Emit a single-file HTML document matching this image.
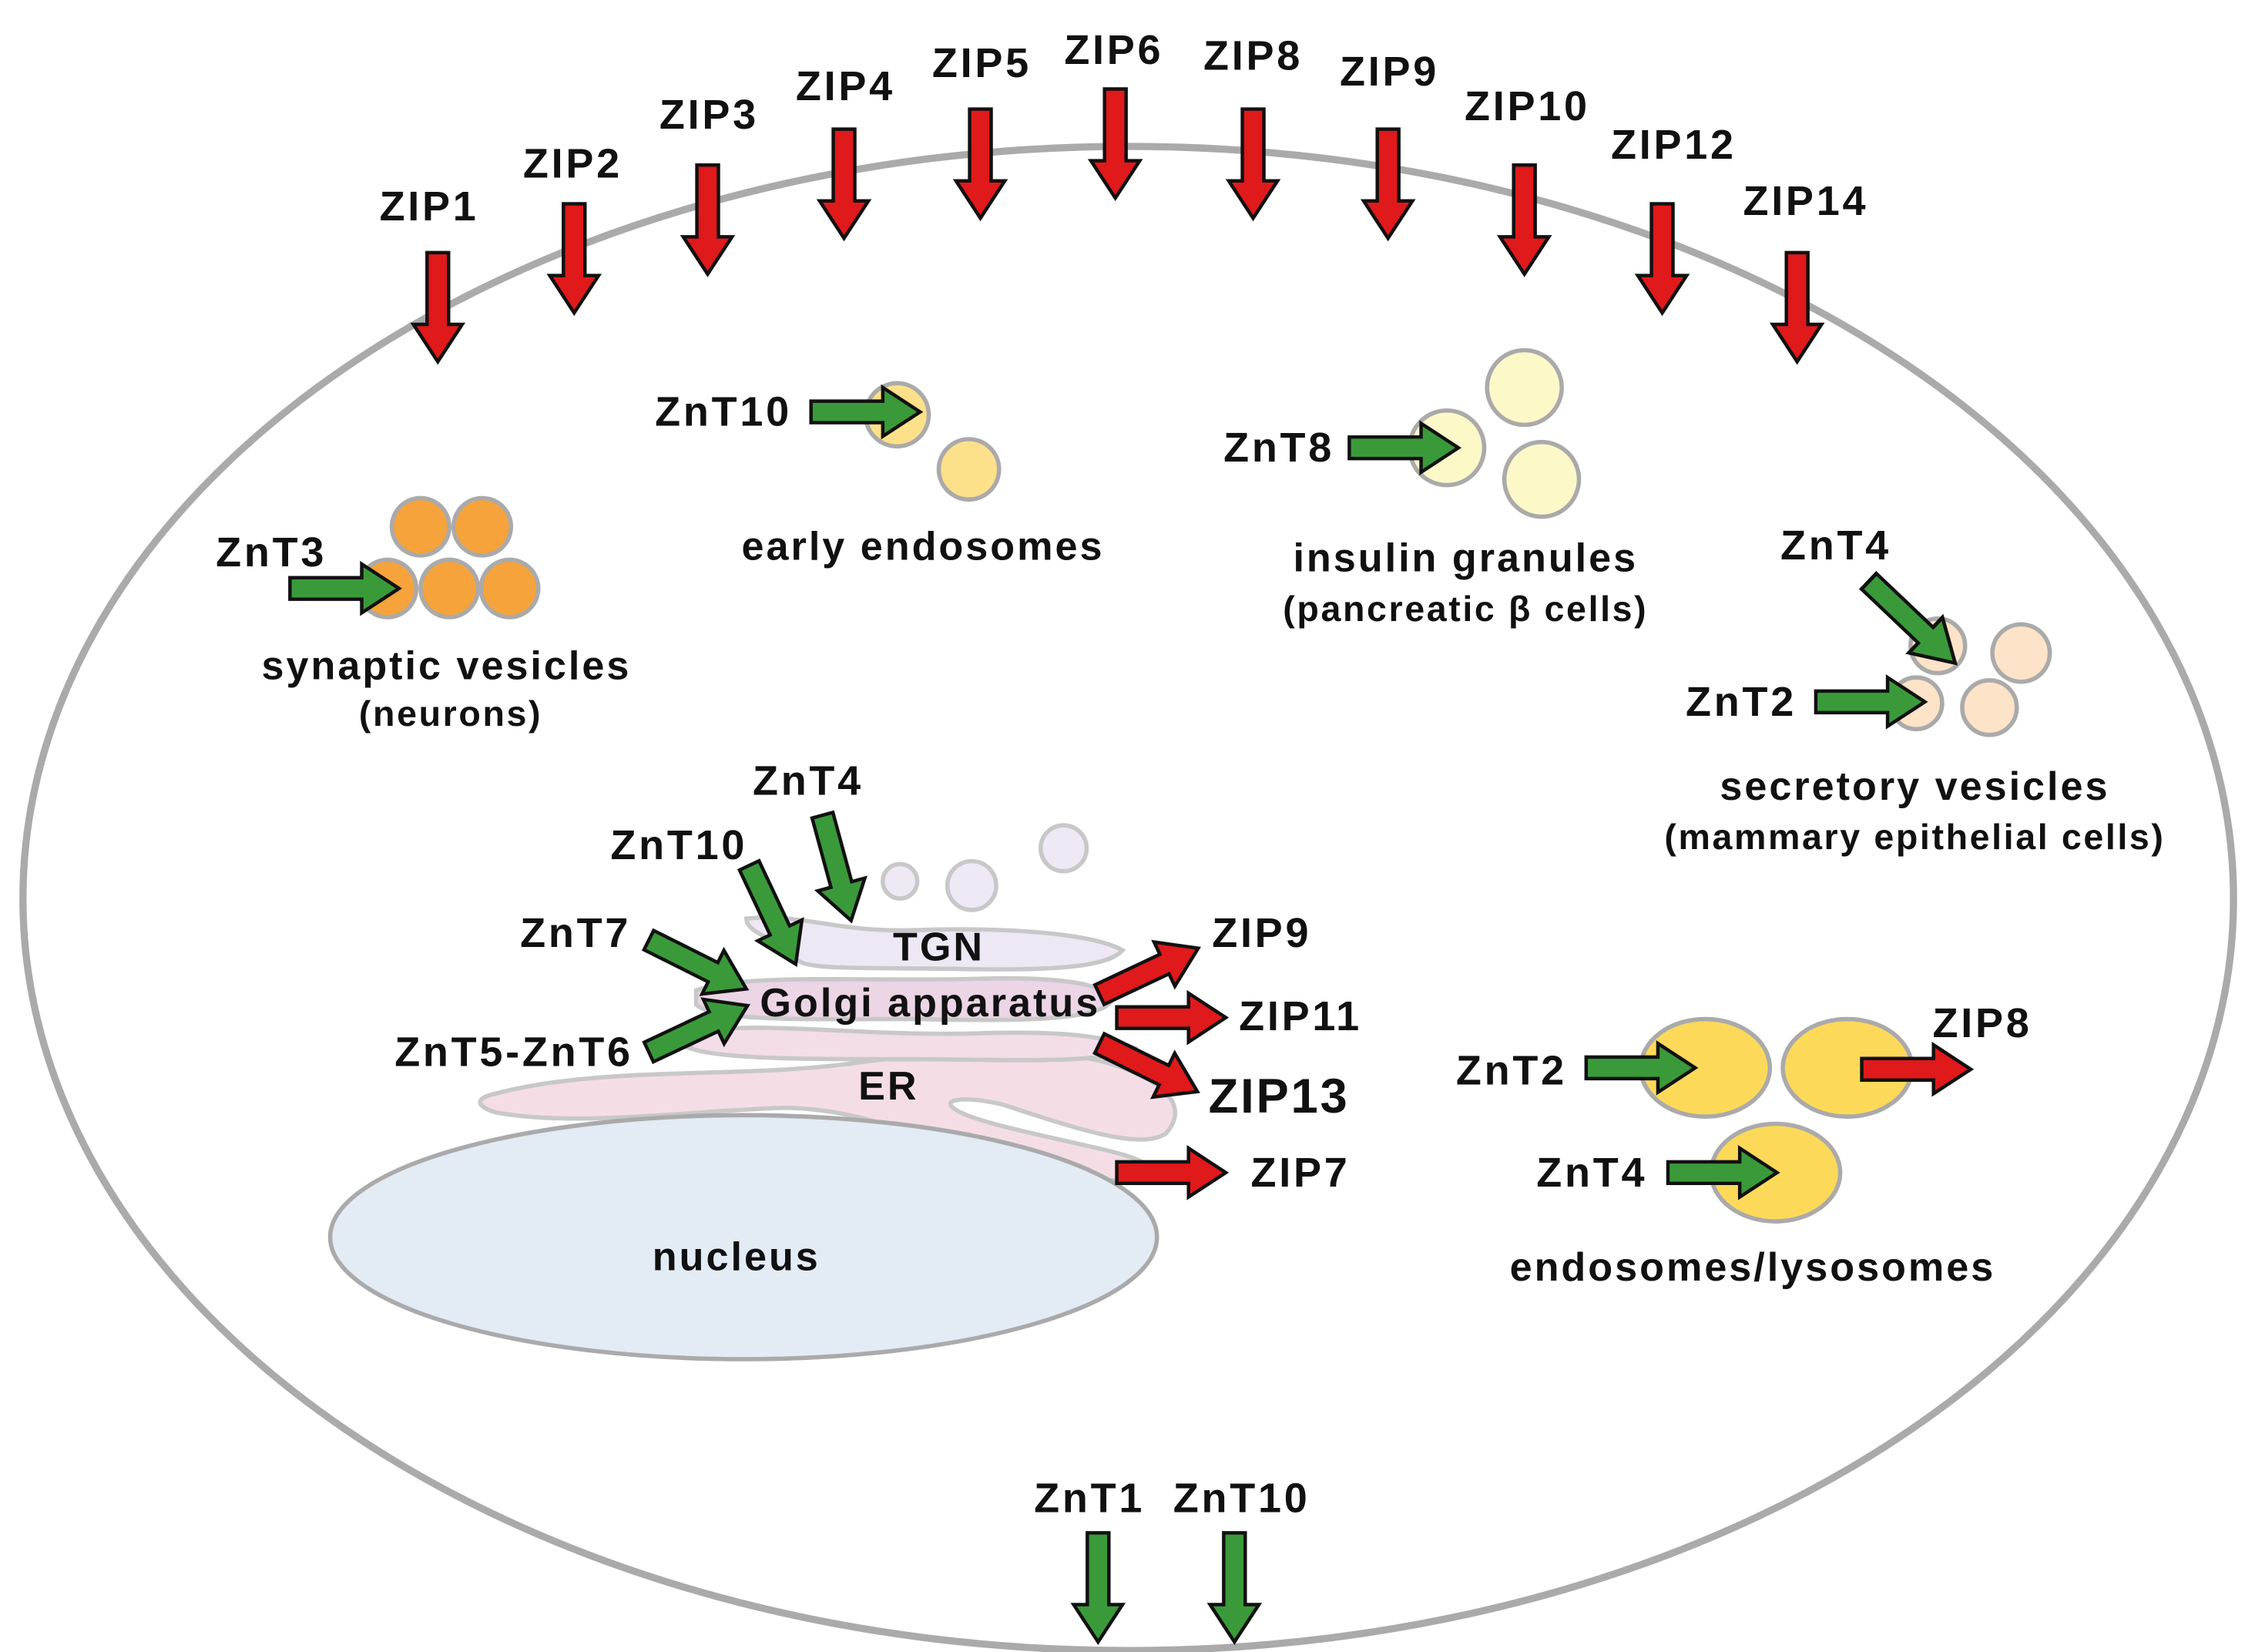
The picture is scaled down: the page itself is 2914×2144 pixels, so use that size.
<!DOCTYPE html>
<html><head><meta charset="utf-8"><style>html,body{margin:0;padding:0;background:#fff}svg{display:block}</style></head>
<body>
<svg xmlns="http://www.w3.org/2000/svg" width="2914" height="2144" viewBox="0 0 1564 1151" preserveAspectRatio="none">
<defs>
<polygon id="ar" points="-7.5,0 7.5,0 7.5,50 17,50 0,76 -17,50 -7.5,50" stroke="#111" stroke-width="2.4" stroke-linejoin="miter"/>
</defs>
<rect width="1564" height="1151" fill="#fff"/>
<ellipse cx="786" cy="626" rx="770" ry="524" fill="none" stroke="#aaa" stroke-width="5"/>

<!-- nucleus, ER, Golgi -->
<path d="M345,762 C420,742 520,752 600,740 C680,730 720,728 770,740 C810,752 830,770 812,790 C795,800 760,790 700,770 C660,760 640,770 700,785 C760,800 800,805 800,815 C790,828 760,822 720,812 C650,798 600,770 540,772 C470,775 400,785 345,775 C330,770 332,765 345,762 Z" fill="#f5dde6" stroke="#c8c8c8" stroke-width="3"/>
<ellipse cx="518" cy="862" rx="288" ry="85" fill="#e3ebf5" stroke="#aaa" stroke-width="3"/>
<path d="M490,718 C540,712 600,722 680,720 C740,718 770,722 790,730 C770,742 700,738 640,738 C560,738 500,738 480,730 Z" fill="#f3dde8" stroke="#c8c8c8" stroke-width="3"/>
<path d="M485,690 C520,678 600,684 680,682 C740,680 770,686 775,696 C770,710 720,712 640,710 C560,710 500,712 485,700 Z" fill="#ecd5e5" stroke="#c8c8c8" stroke-width="3"/>
<path d="M520,640 C560,636 580,650 640,648 C700,646 760,650 782,662 C770,676 720,676 660,675 C600,674 560,676 555,668 C550,656 520,652 520,640 Z" fill="#eee8f5" stroke="#c8c8c8" stroke-width="3"/>
<circle cx="627" cy="614" r="12" fill="#efe8f5" stroke="#c8c8c8" stroke-width="3"/>
<circle cx="677" cy="617" r="17" fill="#efe8f5" stroke="#c8c8c8" stroke-width="3"/>
<circle cx="741" cy="591" r="16" fill="#efe8f5" stroke="#c8c8c8" stroke-width="3"/>

<!-- vesicles -->
<g stroke="#aaa" stroke-width="3">
<circle cx="625" cy="289" r="22" fill="#fde08a"/>
<circle cx="675" cy="327" r="21" fill="#fde08a"/>
<circle cx="293" cy="367" r="20" fill="#f5a33a"/>
<circle cx="336" cy="367" r="20" fill="#f5a33a"/>
<circle cx="270" cy="410" r="20" fill="#f5a33a"/>
<circle cx="313" cy="410" r="20" fill="#f5a33a"/>
<circle cx="355" cy="410" r="20" fill="#f5a33a"/>
<circle cx="1062" cy="270" r="26" fill="#fdf8c8"/>
<circle cx="1008" cy="312" r="26" fill="#fdf8c8"/>
<circle cx="1074" cy="334" r="26" fill="#fdf8c8"/>
<circle cx="1350" cy="450" r="19" fill="#fde3c8"/>
<circle cx="1408" cy="455" r="20" fill="#fde3c8"/>
<circle cx="1335" cy="490" r="18" fill="#fde3c8"/>
<circle cx="1386" cy="493" r="19" fill="#fde3c8"/>
<ellipse cx="1188" cy="744" rx="45" ry="34" fill="#fdd95a"/>
<ellipse cx="1287" cy="744" rx="45" ry="34" fill="#fdd95a"/>
<ellipse cx="1237" cy="817" rx="45" ry="34" fill="#fdd95a"/>
</g>

<g fill="#e0191b">
<use href="#ar" transform="translate(305,176)"/>
<use href="#ar" transform="translate(400,142)"/>
<use href="#ar" transform="translate(493,115)"/>
<use href="#ar" transform="translate(588,90)"/>
<use href="#ar" transform="translate(683,76)"/>
<use href="#ar" transform="translate(777,62)"/>
<use href="#ar" transform="translate(873,76)"/>
<use href="#ar" transform="translate(967,90)"/>
<use href="#ar" transform="translate(1062,115)"/>
<use href="#ar" transform="translate(1158,142)"/>
<use href="#ar" transform="translate(1252,176)"/>
<use href="#ar" transform="translate(1297,745) rotate(-90)"/>
<use href="#ar" transform="translate(766,693) rotate(-115.2)"/>
<use href="#ar" transform="translate(778,709) rotate(-90)"/>
<use href="#ar" transform="translate(766,727) rotate(-63.8)"/>
<use href="#ar" transform="translate(778,817) rotate(-90)"/>
</g>
<g fill="#3a9a3a">
<use href="#ar" transform="translate(565,287) rotate(-90)"/>
<use href="#ar" transform="translate(202,410) rotate(-90)"/>
<use href="#ar" transform="translate(940,312) rotate(-90)"/>
<use href="#ar" transform="translate(1302,405) rotate(-46.5) scale(1,1.09)"/>
<use href="#ar" transform="translate(1265,489) rotate(-90)"/>
<use href="#ar" transform="translate(1105,744) rotate(-90)"/>
<use href="#ar" transform="translate(1162,817) rotate(-90)"/>
<use href="#ar" transform="translate(765,1068)"/>
<use href="#ar" transform="translate(860,1068)"/>
<use href="#ar" transform="translate(573,568) rotate(-15.2)"/>
<use href="#ar" transform="translate(522,603) rotate(-25.2)"/>
<use href="#ar" transform="translate(452,655) rotate(-63.4)"/>
<use href="#ar" transform="translate(452,733) rotate(-115.2)"/>
</g>

<g font-family="Liberation Sans, Arial, sans-serif" font-weight="bold" fill="#111" text-anchor="middle" dominant-baseline="central" font-size="29" letter-spacing="2">
<text x="299" y="144">ZIP1</text>
<text x="399" y="114">ZIP2</text>
<text x="494" y="80">ZIP3</text>
<text x="589" y="60">ZIP4</text>
<text x="684" y="44">ZIP5</text>
<text x="776" y="35">ZIP6</text>
<text x="873" y="39">ZIP8</text>
<text x="968" y="50">ZIP9</text>
<text x="1064" y="74">ZIP10</text>
<text x="1166" y="101">ZIP12</text>
<text x="1258" y="140">ZIP14</text>
<text x="504" y="287">ZnT10</text>
<text x="189" y="385">ZnT3</text>
<text x="891" y="312">ZnT8</text>
<text x="1279" y="380">ZnT4</text>
<text x="1213" y="489">ZnT2</text>
<text x="563" y="544">ZnT4</text>
<text x="473" y="589">ZnT10</text>
<text x="401" y="650">ZnT7</text>
<text x="358" y="733">ZnT5-ZnT6</text>
<text x="879" y="650">ZIP9</text>
<text x="906" y="708">ZIP11</text>
<text x="891" y="764" font-size="34" letter-spacing="1.5">ZIP13</text>
<text x="906" y="817">ZIP7</text>
<text x="1053" y="746">ZnT2</text>
<text x="1381" y="713">ZIP8</text>
<text x="1109" y="817">ZnT4</text>
<text x="759" y="1044">ZnT1</text>
<text x="865" y="1044">ZnT10</text>
<g font-size="28" letter-spacing="1.6">
<text x="643" y="381">early endosomes</text>
<text x="311" y="464">synaptic vesicles</text>
<text x="1021" y="389">insulin granules</text>
<text x="1334" y="548">secretory vesicles</text>
<text x="1221" y="883">endosomes/lysosomes</text>
<text x="513" y="876">nucleus</text>
<text x="619" y="757">ER</text>
<text x="648" y="699">Golgi apparatus</text>
<text x="654" y="660">TGN</text>
</g>
<g font-size="25" letter-spacing="1.4">
<text x="314" y="497">(neurons)</text>
<text x="1021" y="424">(pancreatic β cells)</text>
<text x="1334" y="583">(mammary epithelial cells)</text>
</g>
</g>
</svg>
</body></html>
